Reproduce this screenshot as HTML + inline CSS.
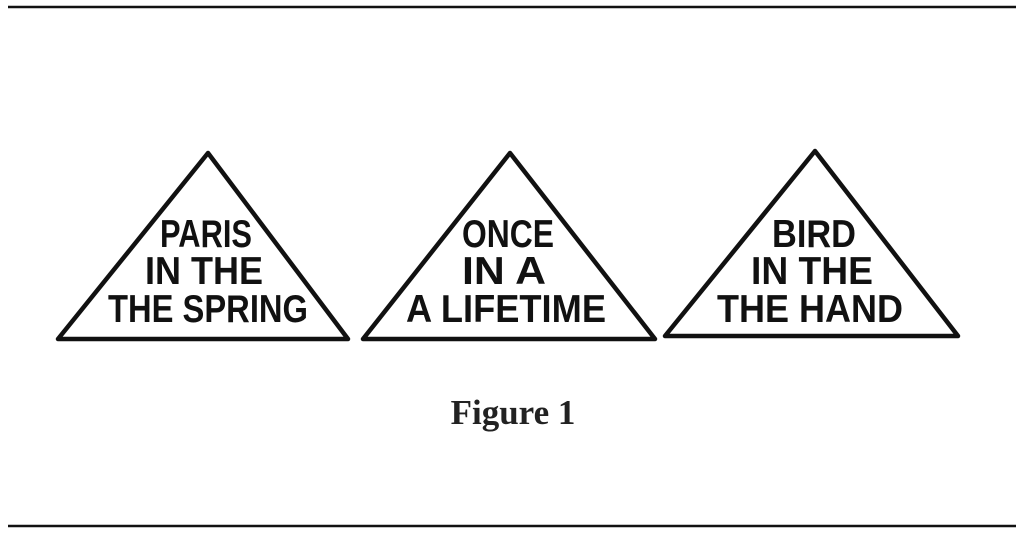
<!DOCTYPE html>
<html><head><style>
html,body{margin:0;padding:0;background:#fff;}
svg{display:block;}
.t{font-family:"Liberation Sans Narrow","Liberation Sans",sans-serif;font-weight:bold;font-size:39px;fill:#111;}
</style></head><body>
<svg width="1024" height="536" viewBox="0 0 1024 536">
<rect width="1024" height="536" fill="#fff"/>
<line x1="8" y1="7" x2="1016" y2="7" stroke="#111" stroke-width="2.5"/>
<line x1="8" y1="526" x2="1016" y2="526" stroke="#111" stroke-width="2.5"/>
<g fill="none" stroke="#111" stroke-width="4.5" stroke-linejoin="round">
<polygon points="208,153 58,339 348,339"/>
<polygon points="510,153 363,339 655,339"/>
<polygon points="815,151 665,336 958,336"/>
</g>
<g class="t" text-anchor="middle">
<text x="206" y="247" textLength="92" lengthAdjust="spacingAndGlyphs">PARIS</text>
<text x="204" y="284" textLength="118" lengthAdjust="spacingAndGlyphs">IN THE</text>
<text x="208" y="322" textLength="200" lengthAdjust="spacingAndGlyphs">THE SPRING</text>
<text x="508" y="247" textLength="92" lengthAdjust="spacingAndGlyphs">ONCE</text>
<text x="504" y="284" textLength="84" lengthAdjust="spacingAndGlyphs">IN A</text>
<text x="506" y="322" textLength="200" lengthAdjust="spacingAndGlyphs">A LIFETIME</text>
<text x="814" y="247" textLength="84" lengthAdjust="spacingAndGlyphs">BIRD</text>
<text x="812" y="284" textLength="122" lengthAdjust="spacingAndGlyphs">IN THE</text>
<text x="810" y="322" textLength="186" lengthAdjust="spacingAndGlyphs">THE HAND</text>
</g>
<text x="513" y="424" text-anchor="middle" font-family="Liberation Serif,serif" font-weight="bold" font-size="35" fill="#222">Figure 1</text>
</svg>
</body></html>
